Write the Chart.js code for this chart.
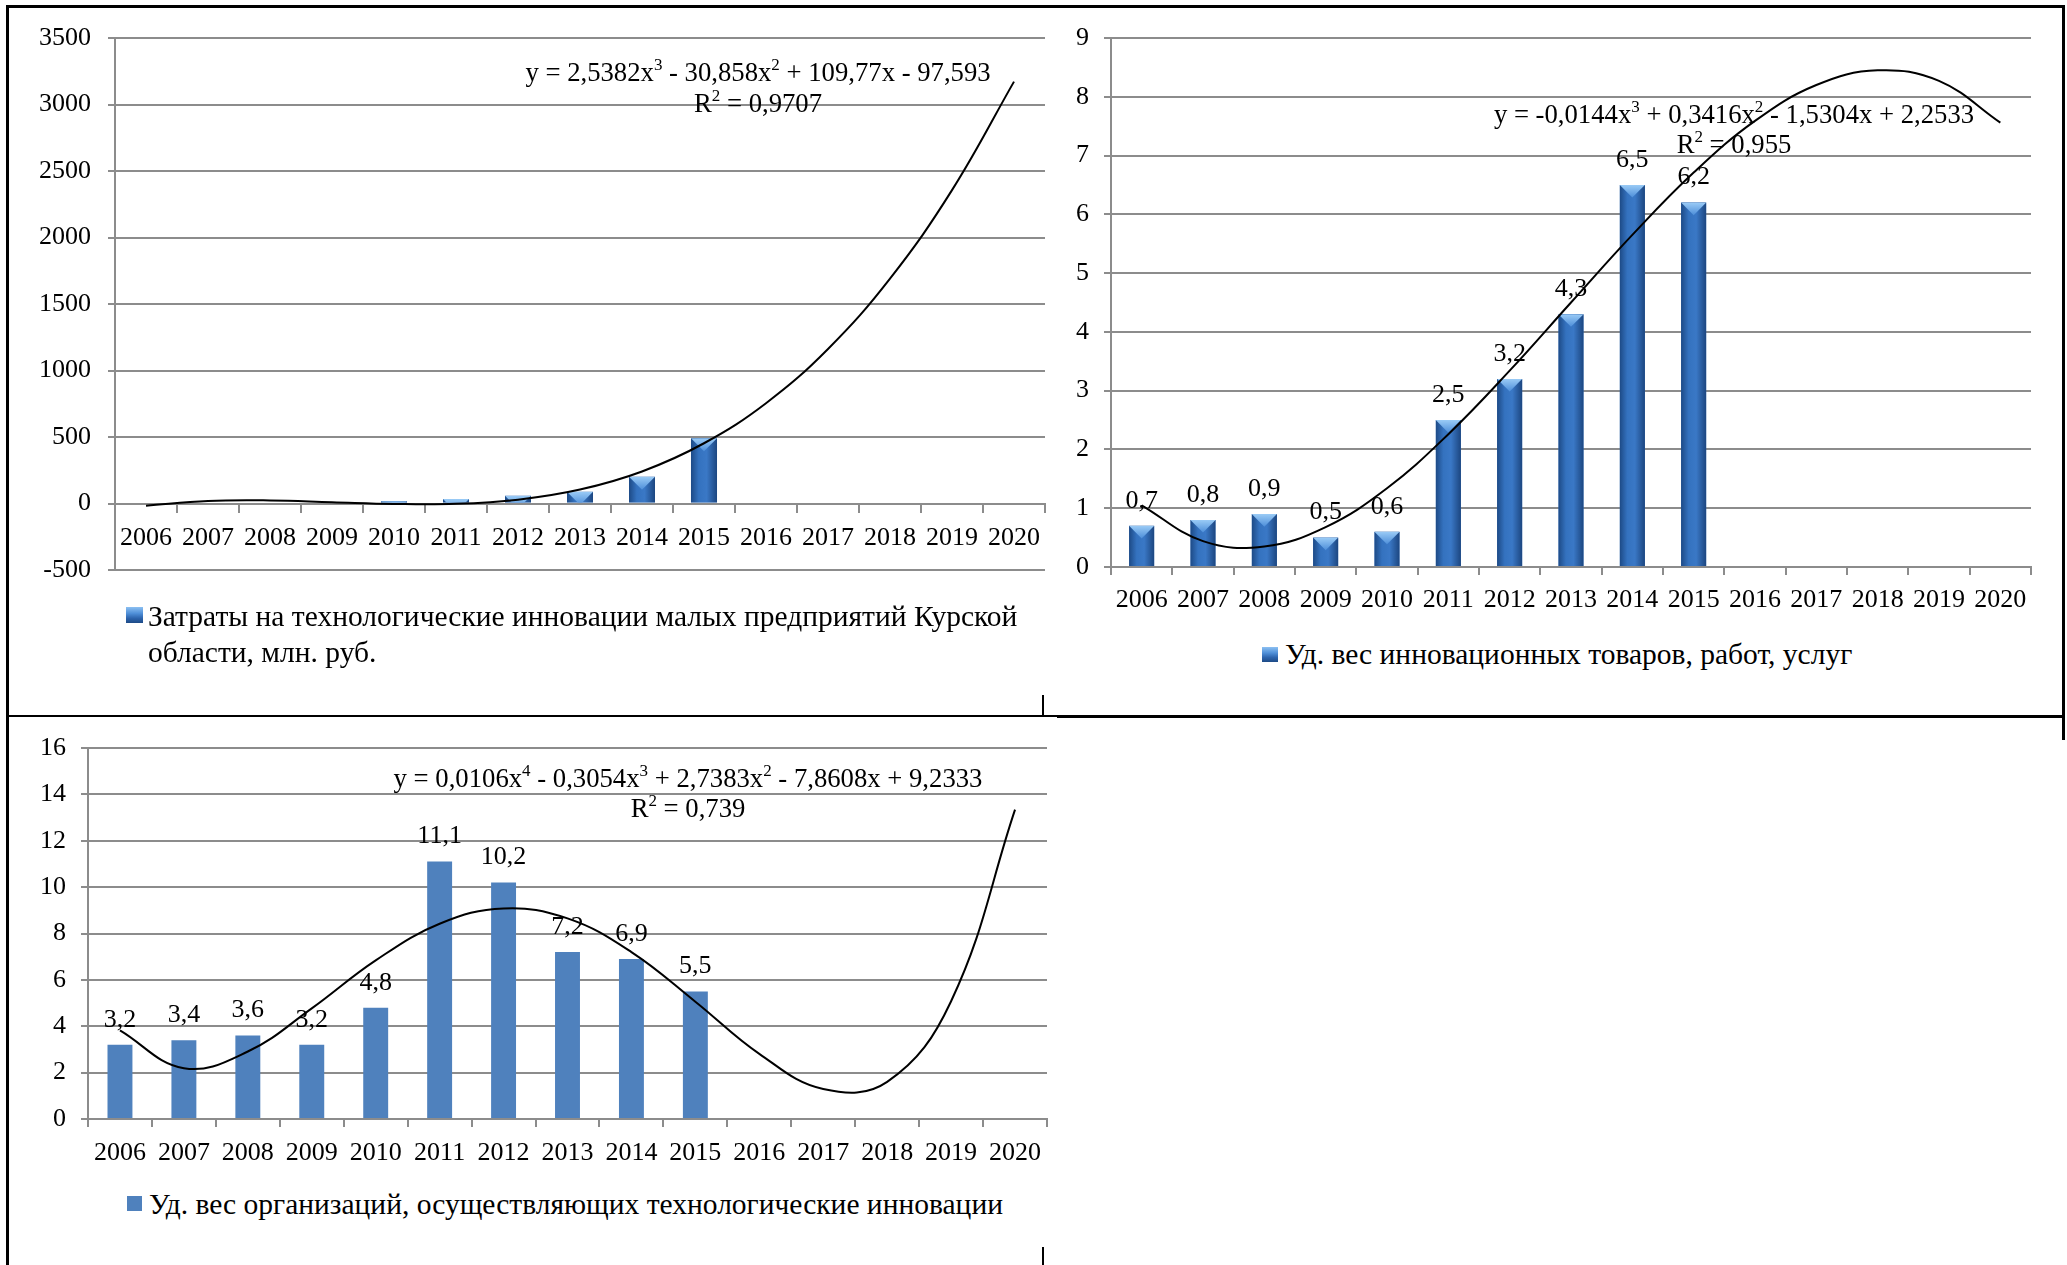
<!DOCTYPE html>
<html><head><meta charset="utf-8">
<script src="https://cdn.jsdelivr.net/npm/chart.js@4.4.1/dist/chart.umd.min.js"></script>
<style>
html,body{margin:0;padding:0;background:#fff;}
body{width:2067px;height:1265px;position:relative;overflow:hidden;font-family:"Liberation Serif","Times New Roman",serif;}
.ln{position:absolute;background:#000;}
canvas{position:absolute;}
.leg{position:absolute;font-size:29.5px;line-height:35.5px;white-space:nowrap;color:#000;}
.mk{position:absolute;}
.mk.bev{background:linear-gradient(to bottom,#8cc0f2 0%,#4f8fd8 40%,#2d64ad 70%,#1d4a86 100%);}
.mk.flat{background:#4F81BD;}
</style></head><body>
<div class="ln" style="left:6px;top:5px;width:2059px;height:3px"></div>
<div class="ln" style="left:6px;top:5px;width:3px;height:1260px"></div>
<div class="ln" style="left:2062px;top:5px;width:3px;height:735px"></div>
<div class="ln" style="left:6px;top:715px;width:1051px;height:2px"></div>
<div class="ln" style="left:1057px;top:715px;width:1008px;height:3px"></div>
<div class="ln" style="left:1042px;top:695px;width:2px;height:21px"></div>
<div class="ln" style="left:1042px;top:1247px;width:2px;height:18px"></div>

<canvas id="c1"></canvas>
<canvas id="c2"></canvas>
<canvas id="c3"></canvas>

<div class="mk bev" style="left:126px;top:607px;width:17px;height:16px"></div>
<div class="leg" style="left:148px;top:599px">Затраты на технологические инновации малых предприятий Курской<br>области, млн. руб.</div>
<div class="mk bev" style="left:1262px;top:647px;width:16px;height:15px"></div>
<div class="leg" style="left:1285px;top:637px">Уд. вес инновационных товаров, работ, услуг</div>
<div class="mk flat" style="left:127px;top:1196px;width:15px;height:15px"></div>
<div class="leg" style="left:149px;top:1187px">Уд. вес организаций, осуществляющих технологические инновации</div>

<script>
// ---------- DATA ----------
const years = ['2006','2007','2008','2009','2010','2011','2012','2013','2014','2015','2016','2017','2018','2019','2020'];

const costs = [0, 0, 0, 0, 17, 33, 58, 88, 201, 490, null, null, null, null, null];
const costsTrend = [-16, 19, 23, 10, -3, -2, 29, 105, 241, 453, 754, 1162, 1691, 2356, 3172];
const costsTicks = [-500, 0, 500, 1000, 1500, 2000, 2500, 3000, 3500];

const productsShare = [0.7, 0.8, 0.9, 0.5, 0.6, 2.5, 3.2, 4.3, 6.5, 6.2, null, null, null, null, null];
const productsTrend = [1.05, 0.44, 0.35, 0.68, 1.34, 2.26, 3.34, 4.50, 5.65, 6.71, 7.59, 8.20, 8.45, 8.27, 7.56];
const productsTicks = [0, 1, 2, 3, 4, 5, 6, 7, 8, 9];

const orgsShare = [3.2, 3.4, 3.6, 3.2, 4.8, 11.1, 10.2, 7.2, 6.9, 5.5, null, null, null, null, null];
const orgsTrend = [3.82, 2.19, 2.91, 4.77, 6.84, 8.42, 9.08, 8.65, 7.20, 5.06, 2.81, 1.29, 1.60, 5.08, 13.34];
const orgsTicks = [0, 2, 4, 6, 8, 10, 12, 14, 16];

const costsLabel = 'Затраты на технологические инновации малых предприятий Курской области, млн. руб.';
const productsLabel = 'Уд. вес инновационных товаров, работ, услуг';
const orgsLabel = 'Уд. вес организаций, осуществляющих технологические инновации';

const costsEq = ['y = 2,5382x^3 - 30,858x^2 + 109,77x - 97,593', 'R^2 = 0,9707'];
const productsEq = ['y = -0,0144x^3 + 0,3416x^2 - 1,5304x + 2,2533', 'R^2 = 0,955'];
const orgsEq = ['y = 0,0106x^4 - 0,3054x^3 + 2,7383x^2 - 7,8608x + 9,2333', 'R^2 = 0,739'];

// ---------- STYLE ----------
const GRID = '#8C8C8C';
const FAM = '"Liberation Serif", "Times New Roman", serif';
Chart.defaults.font.family = FAM;
Chart.defaults.font.size = 26;
Chart.defaults.color = '#000';

function drawRich(ctx, text, cx, cy, size) {
  const parts = []; let buf = '';
  for (let i = 0; i < text.length; i++) {
    if (text[i] === '^') { if (buf) parts.push({t: buf, sup: false}); buf = ''; parts.push({t: text[i + 1], sup: true}); i++; }
    else buf += text[i];
  }
  if (buf) parts.push({t: buf, sup: false});
  const base = size + 'px ' + FAM, sup = Math.round(size * 0.62) + 'px ' + FAM;
  let w = 0;
  parts.forEach(p => { ctx.font = p.sup ? sup : base; p.w = ctx.measureText(p.t).width; w += p.w; });
  let x = cx - w / 2;
  ctx.textBaseline = 'middle'; ctx.textAlign = 'left'; ctx.fillStyle = '#000';
  parts.forEach(p => { ctx.font = p.sup ? sup : base; ctx.fillText(p.t, x, p.sup ? cy - size * 0.3 : cy); x += p.w; });
}

function bevelPlugin() {
  return {
    id: 'bevel',
    afterDatasetDraw(chart, args) {
      const meta = args.meta;
      if (meta.type !== 'bar') return;
      const ctx = chart.ctx;
      meta.data.forEach(el => {
        const p = el.getProps(['x', 'y', 'base', 'width'], true);
        if (p.y == null || isNaN(p.y)) return;
        const left = p.x - p.width / 2, top = Math.min(p.y, p.base), h = Math.abs(p.base - p.y), w = p.width;
        if (h < 0.5) return;
        ctx.save();
        ctx.beginPath(); ctx.rect(left, top, w, h); ctx.clip();
        const g = ctx.createLinearGradient(left, 0, left + w, 0);
        g.addColorStop(0, '#1d4a86'); g.addColorStop(0.3, '#3472bf'); g.addColorStop(0.6, '#3a78c6'); g.addColorStop(1, '#1c4680');
        ctx.fillStyle = g; ctx.fillRect(left, top, w, h);
        const th = w * 0.5;
        const g2 = ctx.createLinearGradient(0, top, 0, top + th);
        g2.addColorStop(0, '#9acbf6'); g2.addColorStop(1, '#4d8ed9');
        ctx.fillStyle = g2;
        ctx.beginPath(); ctx.moveTo(left, top); ctx.lineTo(left + w, top); ctx.lineTo(p.x, top + th); ctx.closePath(); ctx.fill();
        ctx.restore();
      });
    }
  };
}

function labelPlugin() {
  return {
    id: 'vals',
    afterDatasetsDraw(chart) {
      const ctx = chart.ctx;
      const meta = chart.getDatasetMeta(0);
      const data = chart.data.datasets[0].data;
      ctx.save();
      ctx.font = '26px ' + FAM; ctx.fillStyle = '#000'; ctx.textAlign = 'center'; ctx.textBaseline = 'middle';
      meta.data.forEach((el, i) => {
        if (data[i] == null) return;
        ctx.fillText(String(data[i]).replace('.', ','), el.x, el.y - 25);
      });
      ctx.restore();
    }
  };
}

function eqPlugin(lines, cx, ys, offX, offY) {
  return {
    id: 'eq',
    afterDraw(chart) {
      const ctx = chart.ctx;
      ctx.save();
      lines.forEach((t, i) => drawRich(ctx, t, cx - offX, ys[i] - offY, 26.7));
      ctx.restore();
    }
  };
}

function build(id, o) {
  const el = document.getElementById(id);
  const [L, T, W, H] = o.box;
  el.style.left = L + 'px'; el.style.top = T + 'px';
  el.width = W; el.height = H; el.style.width = W + 'px'; el.style.height = H + 'px';
  const xScale = {
    grid: {display: true, drawOnChartArea: false, drawTicks: true, tickLength: 8, color: GRID, lineWidth: 2, offset: true},
    border: {display: true, color: GRID, width: 2},
    ticks: {color: '#000', font: {size: 26, family: FAM}, padding: o.xPad, maxRotation: 0, autoSkip: false}
  };
  if (o.xAtZero) xScale.position = {y: 0};
  else xScale.afterFit = s => { s.height = o.xH; };
  const plugins = [];
  if (o.bevel) plugins.push(bevelPlugin());
  if (o.vals) plugins.push(labelPlugin());
  plugins.push(eqPlugin(o.eq, o.eqX, o.eqY, L, T));
  return new Chart(el, {
    type: 'bar',
    data: {
      labels: years,
      datasets: [
        {type: 'bar', label: o.label, data: o.bars, backgroundColor: o.color, borderWidth: 0,
         barPercentage: o.barPct, categoryPercentage: 1, order: 2},
        {type: 'line', label: 'trend', data: o.trend, borderColor: '#000', borderWidth: 2,
         pointRadius: 0, tension: 0.4, fill: false, order: 1}
      ]
    },
    options: {
      responsive: false, animation: false, devicePixelRatio: 1,
      layout: {padding: {top: 35, left: 0, right: 25, bottom: o.xAtZero ? 40 : 0}},
      plugins: {legend: {display: false}, tooltip: {enabled: false}},
      scales: {
        x: xScale,
        y: {
          position: 'left',
          min: o.ticks[0], max: o.ticks[o.ticks.length - 1],
          ticks: {stepSize: o.ticks[1] - o.ticks[0], color: '#000', font: {size: 26, family: FAM}, padding: o.yPad,
                  callback: v => String(v)},
          grid: {color: GRID, lineWidth: 2, tickLength: 7, drawTicks: true},
          border: {display: true, color: GRID, width: 2},
          afterFit: s => { s.width = o.yW; }
        }
      }
    },
    plugins
  });
}

build('c1', {box: [40, 3, 1030, 607], yW: 75, yPad: 17, xPad: 11, xAtZero: true,
  bars: costs, trend: costsTrend, ticks: costsTicks, label: costsLabel, barPct: 0.42,
  color: '#2f66ad', bevel: true, vals: false,
  eq: costsEq, eqX: 758, eqY: [74, 105]});

build('c2', {box: [1050, 3, 1006, 624], yW: 61, yPad: 15, xPad: 10, xH: 60,
  bars: productsShare, trend: productsTrend, ticks: productsTicks, label: productsLabel, barPct: 0.41,
  color: '#2f66ad', bevel: true, vals: true,
  eq: productsEq, eqX: 1734, eqY: [116, 146]});

build('c3', {box: [28, 713, 1044, 466], yW: 60, yPad: 15, xPad: 11, xH: 60,
  bars: orgsShare, trend: orgsTrend, ticks: orgsTicks, label: orgsLabel, barPct: 0.39,
  color: '#4F81BD', bevel: false, vals: true,
  eq: orgsEq, eqX: 688, eqY: [780, 810]});
</script>
</body></html>
